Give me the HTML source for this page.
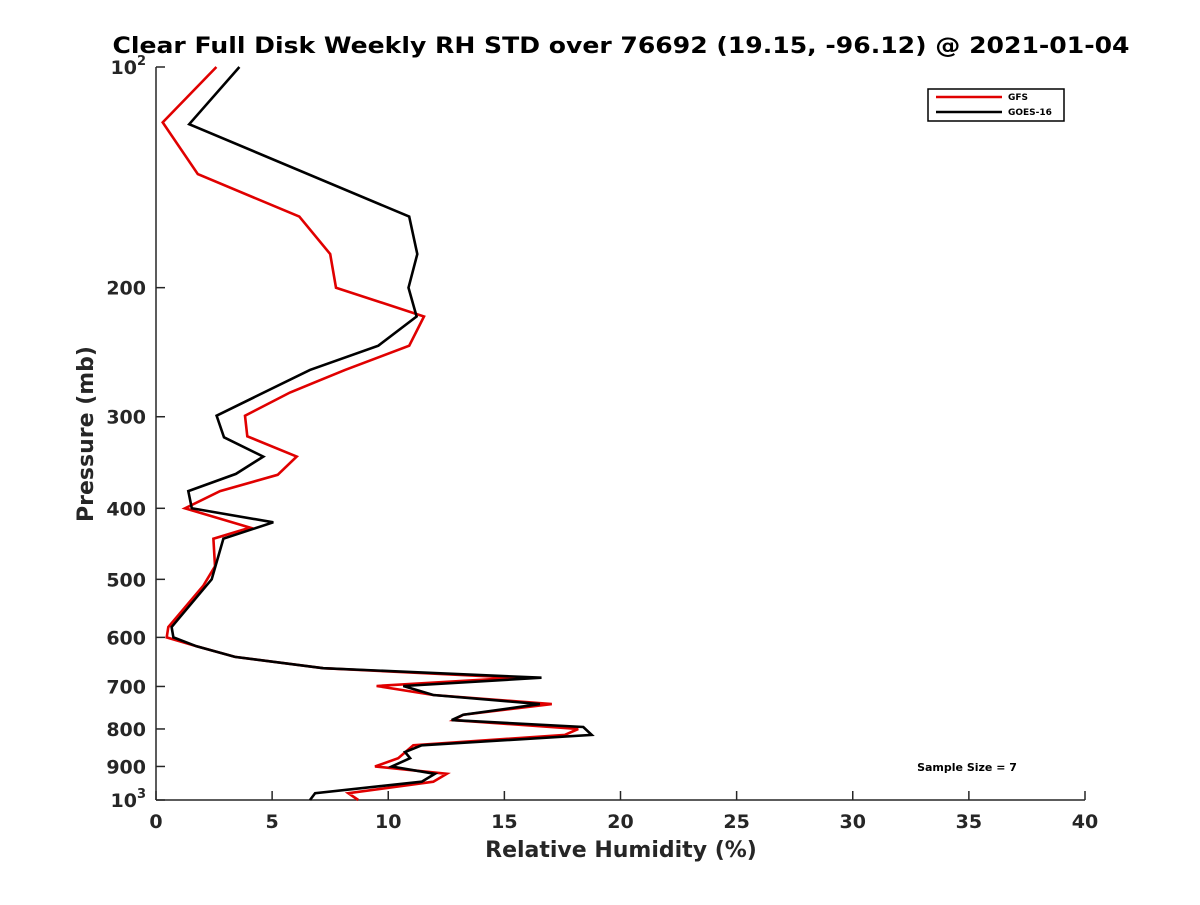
<!DOCTYPE html>
<html><head><meta charset="utf-8"><style>
body{margin:0;background:#fff}
svg text{font-family:"DejaVu Sans","Liberation Sans",sans-serif;font-weight:bold;fill:#262626}
</style></head><body>
<svg width="1200" height="900" viewBox="0 0 1200 900" id="chart">
<rect width="1200" height="900" fill="#fff"/>
<text x="621" y="53" text-anchor="middle" font-size="22" textLength="1017" lengthAdjust="spacingAndGlyphs" style="fill:#000">Clear Full Disk Weekly RH STD over 76692 (19.15, -96.12) @ 2021-01-04</text>
<g id="axes"></g>
<g id="series"></g>
<text x="621" y="857" text-anchor="middle" font-size="22">Relative Humidity (%)</text>
<text transform="translate(93,434) rotate(-90)" text-anchor="middle" font-size="22">Pressure (mb)</text>
<g>
<rect x="928" y="89" width="136" height="32" fill="#fff" stroke="#000" stroke-width="1.5"/>
<line x1="936" y1="97" x2="1002" y2="97" stroke="#e00000" stroke-width="2.5"/>
<text x="1008" y="100" font-size="9" style="fill:#000">GFS</text>
<line x1="936" y1="112" x2="1002" y2="112" stroke="#000" stroke-width="2.5"/>
<text x="1008" y="115" font-size="9" style="fill:#000">GOES-16</text>
</g>
<text x="967" y="771" text-anchor="middle" font-size="11" style="fill:#000">Sample Size = 7</text>
</svg>
<script>
const xTicks=[0,5,10,15,20,25,30,35,40];
const yTicks=[100,200,300,400,500,600,700,800,900,1000];
const gfsP=[100,119,140,160,180,200,219,240,259,278,299,319,340,360,379,400,425,440,480,510,581,600,617,638,661,681,699,719,740,765,778,800,815,842,877,900,921,944,979,1000];
const gfsV=[2.6,0.29,1.8,6.17,7.5,7.75,11.54,10.9,8.14,5.77,3.83,3.93,6.06,5.24,2.76,1.25,4.05,2.47,2.54,2.04,0.53,0.46,1.75,3.4,7.2,15.53,9.5,11.94,17.04,13.23,12.8,18.18,17.6,11.08,10.43,9.43,12.52,11.94,8.28,8.71];
const goesP=[100,119.7,160,180,200,219,240,259,299,320,340,359,379,400,418,440,500,581,600,617,638,661,681,699,719,740,765,778,795,815,842,860,877,900,921,944,979,1000];
const goesV=[3.59,1.43,10.9,11.25,10.87,11.22,9.57,6.63,2.61,2.93,4.62,3.44,1.39,1.54,5.05,2.9,2.4,0.67,0.75,1.75,3.4,7.2,16.6,10.65,11.94,16.53,13.23,12.73,18.4,18.76,11.44,10.72,10.94,10.15,12.01,11.44,6.85,6.63];
const X0=156,X1=1085,Y0=67,Y1=800;
const xs=v=>X0+(v/40)*(X1-X0);
const ys=p=>Y0+Math.log10(p/100)*(Y1-Y0);
const NS="http://www.w3.org/2000/svg";
const axes=document.getElementById('axes'),ser=document.getElementById('series');
function mk(tag,attrs,parent){const e=document.createElementNS(NS,tag);for(const k in attrs)e.setAttribute(k,attrs[k]);parent.appendChild(e);return e;}
let l=mk('line',{x1:X0,y1:Y0,x2:X0,y2:Y1,stroke:'#262626','stroke-width':1.5},axes);


l=mk('line',{x1:X0,y1:Y1,x2:X1,y2:Y1,stroke:'#262626','stroke-width':1.5},axes);


xTicks.forEach(v=>{const x=xs(v);
 const t=mk('line',{x1:x,y1:Y1,x2:x,y2:Y1-9,stroke:'#262626','stroke-width':1.5},axes);
 
 
 const tx=mk('text',{x:x,y:Y1+28,'text-anchor':'middle','font-size':19},axes);tx.textContent=v;
 
 
});
yTicks.forEach(p=>{const y=ys(p);
 const t=mk('line',{x1:X0,y1:y,x2:X0+9,y2:y,stroke:'#262626','stroke-width':1.5},axes);
 
 
 const tx=mk('text',{x:X0-10,y:y+7,'text-anchor':'end','font-size':19},axes);
 if(p===100||p===1000){tx.textContent='10';const s=mk('tspan',{dy:-9,'font-size':13},tx);s.textContent=p===100?'2':'3';}
 else tx.textContent=p;
 
 
});
function draw(P,V,color,name){
 const d=P.map((p,i)=>(i?'L':'M')+xs(V[i]).toFixed(1)+','+ys(p).toFixed(1)).join('');
 const e=mk('path',{d:d,fill:'none',stroke:color,'stroke-width':2.6,'stroke-linejoin':'miter'},ser);
 
 
}
draw(gfsP,gfsV,'#e00000','gfs-line');
draw(goesP,goesV,'#000','goes16-line');
</script>
</body></html>
